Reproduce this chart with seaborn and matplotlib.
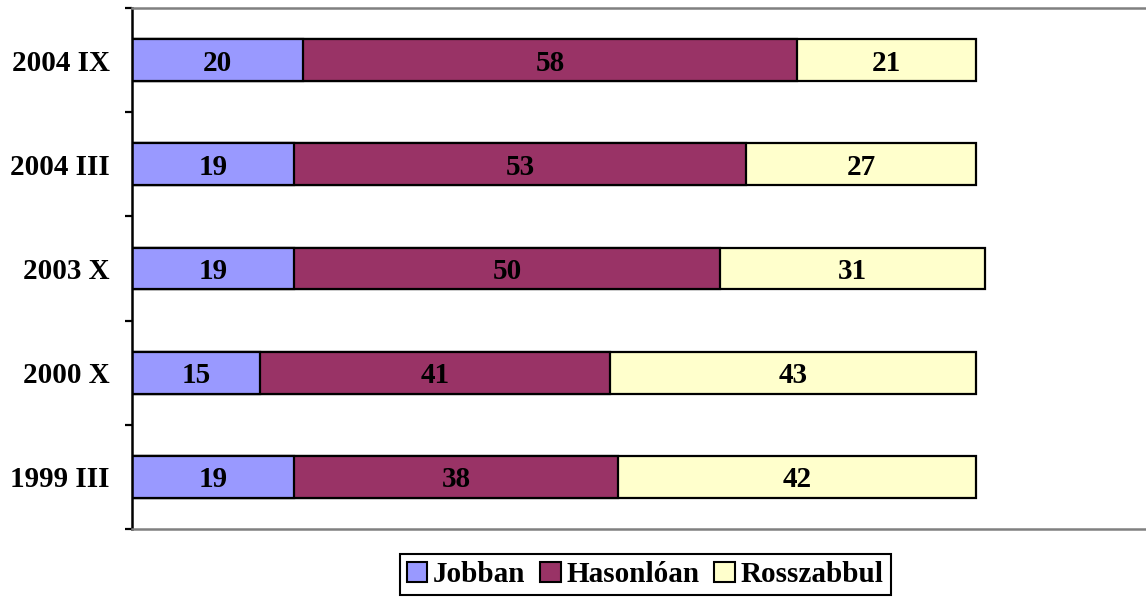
import numpy as np
import pandas as pd
import matplotlib
matplotlib.use("Agg")
import matplotlib.pyplot as plt
import seaborn as sns

# ---------- Data ----------
periods = ["2004 IX", "2004 III", "2003 X", "2000 X", "1999 III"]
jobban = [20, 19, 19, 15, 19]
hasonloan = [58, 53, 50, 41, 38]
rosszabbul = [21, 27, 31, 43, 42]
series_names = ["Jobban", "Hasonlóan", "Rosszabbul"]
colors = ["#9999FF", "#993366", "#FFFFCC"]

sns.set_style("white")
plt.rcParams['font.family'] = ['Liberation Serif', 'DejaVu Serif']
plt.rcParams['font.weight'] = 'bold'

df = pd.DataFrame({"period": periods, "Jobban": jobban,
                   "Hasonlóan": hasonloan, "Rosszabbul": rosszabbul})
df["cum1"] = df["Jobban"]
df["cum2"] = df["Jobban"] + df["Hasonlóan"]
df["cum3"] = df["cum2"] + df["Rosszabbul"]

fig = plt.figure(figsize=(11.46, 6.0), dpi=100)
ax = fig.add_axes([0.1152, 0.1183, 0.8848, 0.8684])

# stacked bars: draw cumulative totals, largest first
for col, c in zip(["cum3", "cum2", "cum1"], colors[::-1]):
    sns.barplot(data=df, x=col, y="period", orient="y", color=c,
                width=0.4, edgecolor="black", linewidth=1.6,
                saturation=1, ax=ax)

# segment labels
fs = 21
for i, row in df.iterrows():
    starts = [0, row["cum1"], row["cum2"]]
    vals = [row["Jobban"], row["Hasonlóan"], row["Rosszabbul"]]
    for s, v in zip(starts, vals):
        ax.text(s + v / 2, i, str(v), ha="center", va="center_baseline",
                fontsize=fs, fontweight="bold", color="black")

ax.set_xlim(0, 118.9)
ax.set_ylim(4.5, -0.5)
ax.set_xlabel("")
ax.set_ylabel("")
ax.set_xticks([])

ax.set_yticks(range(len(periods)))
ax.set_yticklabels(periods, fontsize=fs, fontweight="bold",
                   va="center_baseline")
ax.set_yticks(np.arange(-0.5, len(periods), 1), minor=True)
ax.tick_params(axis="y", which="major", length=0, pad=16, colors="black")
ax.tick_params(axis="y", which="minor", direction="out", length=5,
               width=1.6, color="black", left=True)

ax.spines["left"].set_color("black")
ax.spines["left"].set_linewidth(1.8)
for s in ["top", "bottom"]:
    ax.spines[s].set_color("#808080")
    ax.spines[s].set_linewidth(1.8)
ax.spines["right"].set_visible(False)

handles = [plt.Rectangle((0, 0), 1, 1, facecolor=c, edgecolor="black",
                         linewidth=1.5) for c in colors]
leg = fig.legend(handles, series_names, loc="center",
                 bbox_to_anchor=(0.563, 0.0425), ncol=3, fontsize=fs,
                 frameon=True, fancybox=False, edgecolor="black",
                 framealpha=1, handlelength=0.7, handleheight=0.7,
                 handletextpad=0.2, columnspacing=0.5, borderpad=0.25,
                 borderaxespad=0)
leg.get_frame().set_linewidth(1.5)
for t in leg.get_texts():
    t.set_fontweight("bold")
    t.set_color("black")

fig.savefig("out.png", dpi=100)
